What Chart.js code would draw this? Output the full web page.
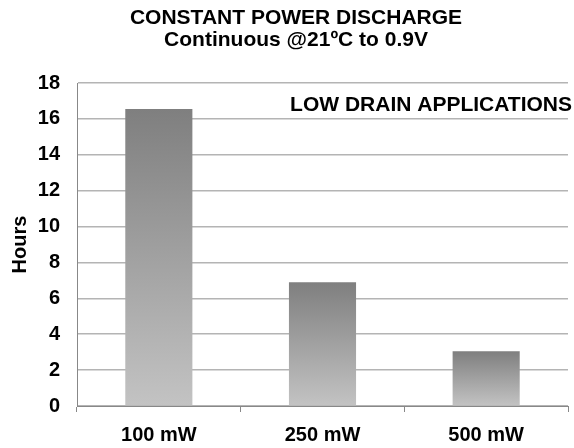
<!DOCTYPE html>
<html>
<head>
<meta charset="utf-8">
<script src="https://cdn.jsdelivr.net/npm/chart.js@4"></script>
<style>
html,body{margin:0;padding:0;background:#fff;}
#wrap{width:574px;height:448px;}
</style>
</head>
<body>
<div id="wrap"><canvas id="c" width="574" height="448"></canvas></div>
<script>
const categories = ['100 mW', '250 mW', '500 mW'];
const hours = [16.55, 6.9, 3.05];
const yTicks = [0, 2, 4, 6, 8, 10, 12, 14, 16, 18];
const titleLines = ['CONSTANT POWER DISCHARGE', 'Continuous @21ºC to 0.9V'];
const noteText = 'LOW DRAIN APPLICATIONS';
const yTitle = 'Hours';

const FONT = "'Liberation Sans', Arial, sans-serif";

const textPlugin = {
  id: 'texts',
  afterDraw(chart) {
    const ctx = chart.ctx;
    ctx.save();
    ctx.fillStyle = '#000';
    ctx.font = 'bold 21px ' + FONT;
    ctx.textAlign = 'center';
    ctx.textBaseline = 'middle';
    ctx.fillText(titleLines[0], 296, 18);
    ctx.fillText(titleLines[1], 296, 40);
    ctx.textAlign = 'right';
    ctx.fillText(noteText, 572, 105);
    ctx.restore();
  }
};

function barGradient(context) {
  const chart = context.chart;
  const y = chart.scales.y;
  if (!y || !chart.chartArea) return '#a0a0a0';
  const v = context.raw;
  const top = y.getPixelForValue(v);
  const bot = y.getPixelForValue(0);
  if (!isFinite(top) || !isFinite(bot) || top === bot) return '#a0a0a0';
  const g = chart.ctx.createLinearGradient(0, top, 0, bot);
  g.addColorStop(0, '#7f7f7f');
  g.addColorStop(1, '#c3c3c3');
  return g;
}

new Chart(document.getElementById('c'), {
  type: 'bar',
  data: {
    labels: categories,
    datasets: [{
      data: hours,
      backgroundColor: barGradient,
      borderWidth: 0,
      categoryPercentage: 1,
      barPercentage: 0.41
    }]
  },
  options: {
    responsive: false,
    animation: false,
    devicePixelRatio: 1,
    layout: { padding: { top: 83, right: 6, left: 0, bottom: 0 } },
    plugins: { legend: { display: false }, title: { display: false }, tooltip: { enabled: false } },
    scales: {
      x: {
        grid: { display: true, drawOnChartArea: false, drawTicks: true, tickLength: 6, color: '#888', offset: true },
        border: { display: true, color: '#888', width: 1 },
        ticks: { color: '#000', font: { family: FONT, size: 20, weight: 'bold' }, padding: 11 },
        afterFit(s) { s.height = 42; }
      },
      y: {
        min: 0, max: 18,
        afterBuildTicks(s) { s.ticks = yTicks.map(v => ({ value: v })); },
        grid: { color: '#b4b4b4', lineWidth: 1.5, drawTicks: false },
        border: { display: true, color: '#888', width: 1 },
        ticks: { color: '#000', font: { family: FONT, size: 20, weight: 'bold' }, padding: 17 },
        title: { display: true, text: yTitle, color: '#000', font: { family: FONT, size: 20, weight: 'bold' }, padding: { top: 8, bottom: 0 } },
        afterFit(s) { s.width = 77; }
      }
    }
  },
  plugins: [textPlugin]
});
</script>
</body>
</html>
